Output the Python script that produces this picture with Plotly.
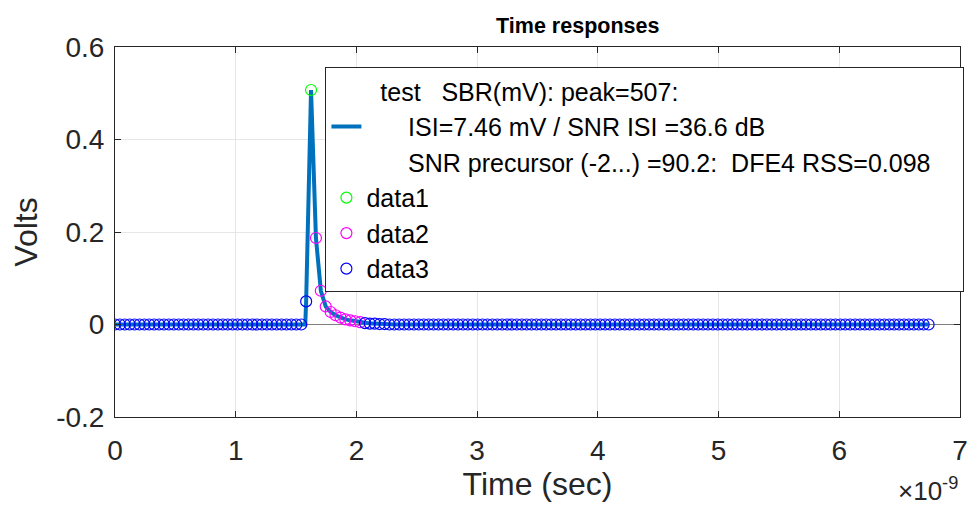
import plotly.graph_objects as go

# ---- data ----
sample_step_s = 40.6e-12          # spacing between samples (s)
n_samples = 167                   # samples 0 .. 166

# sample values (V): flat zeros, one precursor, main cursor, post-cursors
pulse_values = ([0.0] * 39
                + [0.050, 0.507, 0.187, 0.073, 0.039, 0.027, 0.020,
                   0.015, 0.011, 0.009, 0.007, 0.005,
                   0.003, 0.002, 0.002, 0.001, 0.001]
                + [0.0] * 111)
sample_times = [k * sample_step_s for k in range(n_samples)]

# steep rise point of the continuous response (s, V)
rise_time = 1.576e-9
rise_value = 0.0

main_idx = [40]                      # data1 (main cursor)
post_idx = list(range(41, 51))       # data2 (post-cursors)
other_idx = [k for k in range(n_samples) if k not in main_idx + post_idx]  # data3

NB = "\u00a0"
legend_line1 = NB * 2 + "test" + NB * 3 + "SBR(mV): peak=507:"
legend_line2 = NB * 6 + "ISI=7.46 mV / SNR ISI =36.6 dB"
legend_line3 = NB * 6 + "SNR precursor (-2...) =90.2:" + NB * 2 + "DFE4 RSS=0.098" + NB * 4

x_ticks = [0, 1e-9, 2e-9, 3e-9, 4e-9, 5e-9, 6e-9, 7e-9]
x_tick_text = ["0", "1", "2", "3", "4", "5", "6", "7"]
y_ticks = [-0.2, 0, 0.2, 0.4, 0.6]
y_tick_text = ["-0.2", "0", "0.2", "0.4", "0.6"]

# ---- build the continuous line ----
line_t = sample_times[:39] + [rise_time] + sample_times[39:]
line_v = pulse_values[:39] + [rise_value] + pulse_values[39:]

FONT = "Liberation Sans, Arial, sans-serif"
fig = go.Figure()

fig.add_trace(go.Scatter(x=[None], y=[None], mode="lines", name=legend_line1,
                         line=dict(width=0, color="rgba(0,0,0,0)"), hoverinfo="skip"))
fig.add_trace(go.Scatter(x=line_t, y=line_v, mode="lines", name=legend_line2,
                         line=dict(color="#0072BD", width=4)))
fig.add_trace(go.Scatter(x=[None], y=[None], mode="lines", name=legend_line3,
                         line=dict(width=0, color="rgba(0,0,0,0)"), hoverinfo="skip"))
fig.add_trace(go.Scatter(x=[sample_times[k] for k in main_idx],
                         y=[pulse_values[k] for k in main_idx],
                         mode="markers", name="data1",
                         marker=dict(symbol="circle-open", size=11, color="#00FF00",
                                     line=dict(width=1.2))))
fig.add_trace(go.Scatter(x=[sample_times[k] for k in post_idx],
                         y=[pulse_values[k] for k in post_idx],
                         mode="markers", name="data2",
                         marker=dict(symbol="circle-open", size=11, color="#FF00FF",
                                     line=dict(width=1.2))))
fig.add_trace(go.Scatter(x=[sample_times[k] for k in other_idx],
                         y=[pulse_values[k] for k in other_idx],
                         mode="markers", name="data3",
                         marker=dict(symbol="circle-open", size=11, color="#0000FF",
                                     line=dict(width=1.2))))

axis_common = dict(showgrid=True, gridcolor="#E6E6E6", gridwidth=1,
                   showline=True, linecolor="#262626", linewidth=1, mirror="ticks",
                   ticks="inside", ticklen=6, tickcolor="#262626",
                   tickfont=dict(family=FONT, size=28, color="#262626"))

fig.update_xaxes(range=[0, 7e-9], tickvals=x_ticks, ticktext=x_tick_text,
                 ticklabelstandoff=8,
                 title=dict(text="Time (sec)", font=dict(family=FONT, size=32, color="#262626"),
                            standoff=8),
                 zeroline=False, **axis_common)
fig.update_yaxes(range=[-0.2, 0.6], tickvals=y_ticks, ticktext=y_tick_text,
                 ticklabelstandoff=4,
                 title=dict(text="Volts", font=dict(family=FONT, size=32, color="#262626"),
                            standoff=8),
                 zeroline=True, zerolinecolor="#808080", zerolinewidth=1,
                 **axis_common)

# page body has an 8px margin: figure is 969x497 placed at (8, 8)
fig.update_layout(
    width=969, height=497,
    margin=dict(l=107, r=9, t=39, b=88),
    paper_bgcolor="white", plot_bgcolor="white",
    title=dict(text="<b>Time responses</b>", x=0.588, xanchor="center",
               y=0.965, yanchor="middle",
               font=dict(family=FONT, size=21.5, color="black")),
    font=dict(family=FONT, size=20, color="black"),
    legend=dict(x=0.249, xanchor="left", y=0.945, yanchor="top",
                bgcolor="white", bordercolor="#262626", borderwidth=1,
                font=dict(family=FONT, size=25, color="black"),
                itemwidth=30),
    annotations=[dict(text="\u00d710<sup>-9</sup>", xref="paper", yref="paper",
                      x=1.0, y=-0.195, xanchor="right", yanchor="middle", showarrow=False,
                      font=dict(family=FONT, size=26, color="#262626"))],
)

fig.write_html("out.html")
